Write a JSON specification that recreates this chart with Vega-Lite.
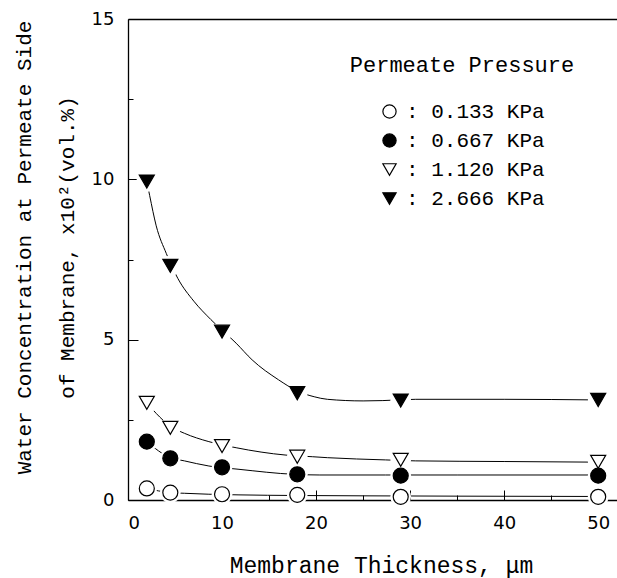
{
  "$schema": "https://vega.github.io/schema/vega-lite/v6.json",
  "width": 489,
  "height": 481,
  "autosize": {"type": "none"},
  "padding": {"left": 128, "top": 19, "right": 0, "bottom": 78},
  "background": "white",
  "config": {
    "view": {"stroke": null},
    "axis": {"grid": false, "domainColor": "black", "tickColor": "black", "labelColor": "black", "titleColor": "black", "zindex": 1},
    "legend": {
      "orient": "none", "legendX": 222, "legendY": 36, "padding": 0,
      "titleFont": "Liberation Mono", "titleFontSize": 22, "titleFontWeight": "normal", "titleColor": "black", "titleLimit": 500,
      "titleAnchor": "middle", "titlePadding": 24,
      "labelFont": "Liberation Mono", "labelFontSize": 21, "labelColor": "black", "labelOffset": 6, "labelLimit": 300,
      "rowPadding": 7, "symbolSize": 175, "symbolStrokeWidth": 1.2
    }
  },
  "datasets": {
    "pts": [
      {"p": "0.133 KPa", "x": 2, "y": 0.36}, {"p": "0.133 KPa", "x": 4.5, "y": 0.23}, {"p": "0.133 KPa", "x": 10, "y": 0.18}, {"p": "0.133 KPa", "x": 18, "y": 0.16}, {"p": "0.133 KPa", "x": 29, "y": 0.1}, {"p": "0.133 KPa", "x": 50, "y": 0.1},
      {"p": "0.667 KPa", "x": 2, "y": 1.82}, {"p": "0.667 KPa", "x": 4.5, "y": 1.3}, {"p": "0.667 KPa", "x": 10, "y": 1.02}, {"p": "0.667 KPa", "x": 18, "y": 0.8}, {"p": "0.667 KPa", "x": 29, "y": 0.76}, {"p": "0.667 KPa", "x": 50, "y": 0.76},
      {"p": "1.120 KPa", "x": 2, "y": 3.03}, {"p": "1.120 KPa", "x": 4.5, "y": 2.25}, {"p": "1.120 KPa", "x": 10, "y": 1.68}, {"p": "1.120 KPa", "x": 18, "y": 1.35}, {"p": "1.120 KPa", "x": 29, "y": 1.25}, {"p": "1.120 KPa", "x": 50, "y": 1.19},
      {"p": "2.666 KPa", "x": 2, "y": 9.93}, {"p": "2.666 KPa", "x": 4.5, "y": 7.3}, {"p": "2.666 KPa", "x": 10, "y": 5.25}, {"p": "2.666 KPa", "x": 18, "y": 3.33}, {"p": "2.666 KPa", "x": 29, "y": 3.1}, {"p": "2.666 KPa", "x": 50, "y": 3.12}
    ],
    "fit": [
      {"s": "a", "x": 2, "y": 0.36}, {"s": "a", "x": 4.5, "y": 0.23}, {"s": "a", "x": 6, "y": 0.21}, {"s": "a", "x": 8.6, "y": 0.18}, {"s": "a", "x": 11.7, "y": 0.16}, {"s": "a", "x": 18, "y": 0.14}, {"s": "a", "x": 25, "y": 0.13}, {"s": "a", "x": 35, "y": 0.12}, {"s": "a", "x": 50, "y": 0.11},
      {"s": "b", "x": 2, "y": 1.82}, {"s": "b", "x": 4.5, "y": 1.32}, {"s": "b", "x": 6, "y": 1.22}, {"s": "b", "x": 8.6, "y": 1.06}, {"s": "b", "x": 11.7, "y": 0.96}, {"s": "b", "x": 17.7, "y": 0.8}, {"s": "b", "x": 20.4, "y": 0.78}, {"s": "b", "x": 27.4, "y": 0.78}, {"s": "b", "x": 35, "y": 0.78}, {"s": "b", "x": 50, "y": 0.78},
      {"s": "c", "x": 2, "y": 3.03}, {"s": "c", "x": 3, "y": 2.7}, {"s": "c", "x": 4.5, "y": 2.3}, {"s": "c", "x": 6, "y": 2.08}, {"s": "c", "x": 8.6, "y": 1.82}, {"s": "c", "x": 11.5, "y": 1.63}, {"s": "c", "x": 16.8, "y": 1.4}, {"s": "c", "x": 19.6, "y": 1.35}, {"s": "c", "x": 21.2, "y": 1.32}, {"s": "c", "x": 27.4, "y": 1.25}, {"s": "c", "x": 30.6, "y": 1.22}, {"s": "c", "x": 40, "y": 1.2}, {"s": "c", "x": 50, "y": 1.18},
      {"s": "d", "x": 2, "y": 9.93}, {"s": "d", "x": 2.3, "y": 9.5}, {"s": "d", "x": 3, "y": 8.55}, {"s": "d", "x": 4.07, "y": 7.69}, {"s": "d", "x": 5.3, "y": 6.91}, {"s": "d", "x": 7, "y": 6.2}, {"s": "d", "x": 8.8, "y": 5.63}, {"s": "d", "x": 11.5, "y": 4.89}, {"s": "d", "x": 13.2, "y": 4.37}, {"s": "d", "x": 16, "y": 3.75}, {"s": "d", "x": 18, "y": 3.4}, {"s": "d", "x": 19.8, "y": 3.22}, {"s": "d", "x": 21.2, "y": 3.14}, {"s": "d", "x": 25, "y": 3.09}, {"s": "d", "x": 27.1, "y": 3.1}, {"s": "d", "x": 30.6, "y": 3.14}, {"s": "d", "x": 40, "y": 3.14}, {"s": "d", "x": 50, "y": 3.12}
    ]
  },
  "resolve": {"axis": {"x": "independent", "y": "independent"}},
  "layer": [
    {
      "data": {"name": "fit"},
      "mark": {"type": "line", "color": "black", "strokeWidth": 1, "interpolate": "monotone"},
      "encoding": {
        "x": {"field": "x", "type": "quantitative", "scale": {"domain": [0, 52], "nice": false, "zero": false},
          "axis": {"orient": "bottom", "values": [0, 10, 20, 30, 40, 50], "tickSize": -10, "tickWidth": 1, "domainWidth": 1.3, "labelPadding": 24, "labelFont": "DejaVu Sans", "labelFontSize": 18, "labelBaseline": "top",
            "title": "Membrane Thickness, μm", "titleFont": "Liberation Mono", "titleFontSize": 23, "titleFontWeight": "normal", "titleX": 253, "titleY": 72, "titleBaseline": "alphabetic", "titleAlign": "center"}},
        "y": {"field": "y", "type": "quantitative", "scale": {"domain": [0, 15], "nice": false},
          "axis": {"orient": "left", "values": [0, 5, 10, 15], "tickSize": -10, "tickWidth": 1, "domainWidth": 1.3, "labelPadding": 24, "labelFont": "DejaVu Sans", "labelFontSize": 18,
            "title": ["Water Concentration at Permeate Side", "of Membrane, x10²(vol.%)"], "titleFont": "Liberation Mono", "titleFontSize": 21, "titleFontWeight": "normal", "titleLineHeight": 43,
            "titleAngle": -90, "titleX": -104, "titleY": 228, "titleAlign": "center", "titleBaseline": "middle"}},
        "detail": {"field": "s"}
      }
    },
    {
      "data": {"name": "pts"},
      "mark": {"type": "point", "filled": true, "fill": "white", "opacity": 1, "size": 430, "shape": "circle", "strokeWidth": 0},
      "encoding": {
        "x": {"field": "x", "type": "quantitative", "axis": {"orient": "bottom", "values": [5, 15, 25, 35, 45], "tickSize": -5, "labels": false, "domain": false, "title": null}},
        "y": {"field": "y", "type": "quantitative", "axis": {"orient": "left", "values": [2.5, 7.5, 12.5], "tickSize": -5, "labels": false, "domain": false, "title": null}}
      }
    },
    {
      "data": {"name": "pts"},
      "mark": {"type": "point", "filled": true, "opacity": 1, "size": 225, "strokeWidth": 1.2},
      "encoding": {
        "x": {"field": "x", "type": "quantitative", "axis": {"orient": "top", "labels": false, "ticks": false, "domain": true, "domainWidth": 1.3, "title": null}},
        "y": {"field": "y", "type": "quantitative", "axis": null},
        "shape": {"field": "p", "type": "nominal",
          "scale": {"domain": ["0.133 KPa", "0.667 KPa", "1.120 KPa", "2.666 KPa"], "range": ["circle", "circle", "M-1,-0.866L1,-0.866L0,0.866Z", "M-1,-0.866L1,-0.866L0,0.866Z"]},
          "legend": {"title": "Permeate Pressure", "labelExpr": "': ' + datum.label"}},
        "fill": {"field": "p", "type": "nominal",
          "scale": {"domain": ["0.133 KPa", "0.667 KPa", "1.120 KPa", "2.666 KPa"], "range": ["white", "black", "white", "black"]},
          "legend": {"title": "Permeate Pressure", "labelExpr": "': ' + datum.label"}},
        "stroke": {"field": "p", "type": "nominal",
          "scale": {"domain": ["0.133 KPa", "0.667 KPa", "1.120 KPa", "2.666 KPa"], "range": ["black", "black", "black", "black"]},
          "legend": {"title": "Permeate Pressure", "labelExpr": "': ' + datum.label"}}
      }
    }
  ]
}
